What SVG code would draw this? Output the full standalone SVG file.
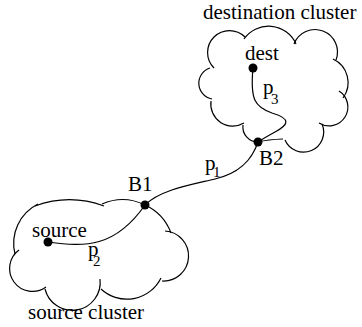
<svg xmlns="http://www.w3.org/2000/svg" width="362" height="327" viewBox="0 0 362 327">
<style>
.c{fill:none;stroke:#000;stroke-width:1.2}
.t{font-family:"Liberation Serif","Times New Roman",serif;font-size:21px;fill:#000}
.s{font-family:"Liberation Serif","Times New Roman",serif;font-size:15px;fill:#000}
.d{fill:#000}
</style>
<rect width="362" height="327" fill="#fff"/>
<g id="dest-cluster">
<path class="c" d="M258,142 A15,15 0 0 1 243,125"/>
<path class="c" d="M244,123 A22,22 0 0 1 211,101"/>
<path class="c" d="M212,99 A16,16 0 0 1 210,68"/>
<path class="c" d="M214,68 A21.5,21.5 0 0 1 245,37"/>
<path class="c" d="M244,39 A30,30 0 0 1 296,44"/>
<path class="c" d="M294,44 A22,22 0 0 1 336,60"/>
<path class="c" d="M333,59 A26,26 0 0 1 343,98"/>
<path class="c" d="M339,91 A18.5,18.5 0 0 1 319,123"/>
<path class="c" d="M322,124 A19.5,19.5 0 0 1 285,140"/>
<path class="c" d="M283,139 Q268,139.5 258,142"/>
<text class="t" x="203" y="19">destination cluster</text>
</g>
<g id="source-cluster">
<path class="c" d="M145,205 A50,50 0 0 1 171,233"/>
<path class="c" d="M165,231 A24,24 0 0 1 162,281"/>
<path class="c" d="M161,278 A38,38 0 0 1 101,289"/>
<path class="c" d="M100,279 A28,28 0 0 1 45,289"/>
<path class="c" d="M46,287 A22.3,22.3 0 1 1 19,250"/>
<path class="c" d="M15,254 A44,44 0 0 1 38,204"/>
<path class="c" d="M35,206 A100,100 0 0 1 104,206"/>
<path class="c" d="M102,204 A51,51 0 0 1 145,205"/>
<text class="t" x="28" y="319">source cluster</text>
</g>
<g id="connectors">
<path class="c" d="M48,242 C85,247 115,248 145,205"/>
<path class="c" d="M145,205 C160,190 190,185 215,179 C240,173 252,160 258,142"/>
<path class="c" d="M253,68 C250,100 255,107 272,113 C292,119 288,125 275,132 C266,137 261,140 258,142"/>
</g>
<g id="dest">
<circle class="d" cx="253" cy="68" r="4.5"/>
<text class="t" x="245" y="60">dest</text>
</g>
<g id="source">
<circle class="d" cx="48" cy="242" r="4.5"/>
<text class="t" x="32" y="237">source</text>
</g>
<g id="B1">
<circle class="d" cx="145" cy="205" r="4.5"/>
<text class="t" x="128" y="191">B1</text>
</g>
<g id="B2">
<circle class="d" cx="258" cy="142" r="4.5"/>
<text class="t" x="259" y="165">B2</text>
</g>
<g id="labels">
<text class="t" x="205" y="170">p</text><text class="s" x="213" y="177">1</text>
<text class="t" x="88" y="256">p</text><text class="s" x="93" y="266">2</text>
<text class="t" x="263" y="94">p</text><text class="s" x="271" y="104">3</text>
</g>
</svg>
